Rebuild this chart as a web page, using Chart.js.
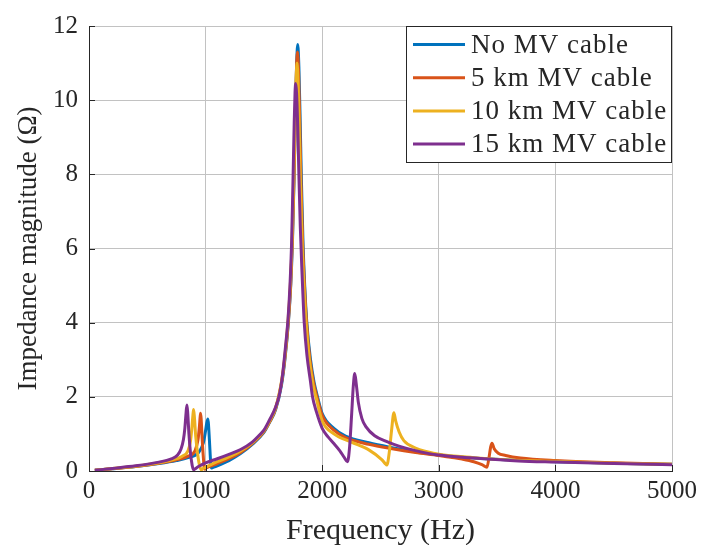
<!DOCTYPE html>
<html>
<head>
<meta charset="utf-8">
<script src="https://cdn.jsdelivr.net/npm/chart.js@4.4.1/dist/chart.umd.min.js"></script>
<style>
    body { margin: 0; background: #fff; }
    #wrap { width: 702px; height: 545px; position: relative; }
</style>
</head>
<body>
<div id="wrap"><canvas id="impedance_chart"></canvas></div>
<script>
// Values (frequency in Hz, |Z| in ohm)
const seriesLabels = ["No MV cable", "5 km MV cable", "10 km MV cable", "15 km MV cable"];
const seriesColors = ["#0072BD", "#D95319", "#EDB120", "#7E2F8E"];

const freqNoCable = [50, 200, 400, 600, 750, 850, 940, 980, 998, 1010, 1020, 1026, 1035, 1042, 1048, 1065, 1100, 1200, 1300, 1400, 1500, 1550,
    1600, 1650, 1680, 1710, 1730, 1745, 1758, 1770, 1780, 1790, 1800, 1810, 1822, 1835, 1850, 1868, 1900, 1930, 1960, 2000,
    2100, 2200, 2400, 2600, 2800, 3000, 3300, 3600, 4000, 4500, 5000];
const zNoCable = [0.02, 0.06, 0.12, 0.2, 0.28, 0.36, 0.5, 0.75, 1.05, 1.3, 1.4, 1.2, 0.7, 0.3, 0.08, 0.1, 0.14, 0.28, 0.47, 0.72, 1.04, 1.32,
    1.65, 2.3, 3.0, 4.0, 5.0, 6.2, 7.8, 9.6, 10.9, 11.5, 10.9, 9.6, 7.8, 6.2, 5.0, 4.0, 3.0, 2.4, 2.0, 1.55,
    1.15, 0.94, 0.76, 0.63, 0.52, 0.43, 0.35, 0.3, 0.25, 0.21, 0.18];

const freq5km = [50, 200, 400, 600, 750, 850, 910, 935, 947, 953, 957, 962, 970, 980, 991, 1005, 1100, 1200, 1300, 1400, 1500, 1550,
    1600, 1650, 1680, 1710, 1730, 1745, 1758, 1770, 1779, 1788, 1797, 1807, 1818, 1832, 1848, 1866, 1895, 1925, 1955, 2000,
    2100, 2200, 2400, 2600, 2800, 3000, 3100, 3200, 3300, 3370, 3413, 3430, 3445, 3456, 3475, 3510, 3573, 3700, 4000, 4500, 5000];
const z5km = [0.02, 0.06, 0.12, 0.21, 0.3, 0.4, 0.55, 0.85, 1.2, 1.45, 1.56, 1.4, 0.9, 0.4, 0.05, 0.08, 0.2, 0.33, 0.5, 0.74, 1.06, 1.33,
    1.68, 2.35, 3.05, 4.05, 5.05, 6.3, 7.9, 9.6, 10.8, 11.3, 10.8, 9.5, 7.8, 6.2, 5.0, 4.0, 3.0, 2.4, 2.0, 1.5,
    1.1, 0.9, 0.72, 0.6, 0.5, 0.42, 0.37, 0.32, 0.25, 0.17, 0.1, 0.35, 0.65, 0.75, 0.6, 0.48, 0.42, 0.35, 0.28, 0.22, 0.18];

const freq10km = [50, 200, 400, 600, 700, 800, 850, 870, 882, 891, 897, 904, 915, 930, 948, 963, 980, 1000, 1100, 1200, 1300, 1400, 1500, 1550,
    1600, 1650, 1680, 1708, 1728, 1743, 1756, 1767, 1776, 1784, 1793, 1803, 1814, 1828, 1845, 1862, 1890, 1920, 1950, 2000,
    2100, 2250, 2400, 2513, 2540, 2555, 2575, 2595, 2615, 2630, 2660, 2700, 2800, 2900, 3000, 3300, 3600, 4000, 4500, 5000];
const z10km = [0.02, 0.065, 0.13, 0.22, 0.29, 0.4, 0.55, 0.8, 1.15, 1.5, 1.66, 1.45, 0.95, 0.5, 0.15, 0.03, 0.07, 0.1, 0.25, 0.38, 0.54, 0.76, 1.08, 1.35,
    1.7, 2.4, 3.1, 4.1, 5.1, 6.3, 7.9, 9.5, 10.5, 11.0, 10.5, 9.3, 7.7, 6.1, 4.9, 4.0, 3.0, 2.35, 1.95, 1.35,
    1.0, 0.78, 0.57, 0.3, 0.2, 0.16, 0.5, 1.1, 1.57, 1.35, 1.05, 0.82, 0.62, 0.52, 0.45, 0.36, 0.3, 0.26, 0.21, 0.18];

const freq15km = [50, 200, 400, 600, 700, 760, 790, 810, 822, 832, 840, 847, 857, 870, 885, 897, 915, 950, 1000, 1100, 1200, 1300, 1400, 1462, 1500, 1547,
    1600, 1632, 1660, 1690, 1707, 1725, 1738, 1750, 1760, 1767, 1773, 1780, 1790, 1800, 1812, 1825, 1846, 1870, 1900, 1917, 1950, 2000,
    2050, 2100, 2150, 2190, 2217, 2235, 2252, 2267, 2279, 2292, 2310, 2340, 2376, 2450, 2550, 2658, 2800, 3000, 3300, 3684, 4000, 4500, 5000];
const z15km = [0.02, 0.07, 0.14, 0.24, 0.32, 0.43, 0.6, 0.85, 1.15, 1.55, 1.78, 1.55, 1.0, 0.5, 0.15, 0.03, 0.07, 0.14, 0.22, 0.33, 0.45, 0.58, 0.78, 0.97, 1.1, 1.37,
    1.72, 2.05, 2.6, 3.5, 4.1, 5.1, 6.2, 7.9, 9.4, 10.2, 10.45, 10.2, 9.3, 8.0, 6.6, 5.5, 4.0, 3.1, 2.4, 2.0, 1.6, 1.15,
    0.92, 0.74, 0.55, 0.36, 0.25, 0.65, 1.5, 2.3, 2.63, 2.35, 1.85, 1.42, 1.19, 0.95, 0.8, 0.67, 0.55, 0.43, 0.35, 0.27, 0.24, 0.2, 0.17];

const freqTicks = [0, 1000, 2000, 3000, 4000, 5000];
const zTicks = [0, 2, 4, 6, 8, 10, 12];

const FONT = "'Liberation Serif', 'Times New Roman', serif";
const TEXT_COLOR = "#262626";

function toPoints(xs, ys) {
    return xs.map((x, i) => ({x: x, y: ys[i]}));
}

// legend box drawn inside the plot, top right corner, like MATLAB's
const boxLegend = {
    id: "boxLegend",
    afterDraw(chart) {
        const ctx = chart.ctx;
        const area = chart.chartArea;
        const w = 266, h = 137, rowH = 33.2;
        const left = area.right - w, top = area.top;
        ctx.save();
        ctx.fillStyle = "#fff";
        ctx.fillRect(left, top, w, h);
        ctx.strokeStyle = TEXT_COLOR;
        ctx.lineWidth = 1;
        ctx.strokeRect(left + 0.5, top + 0.5, w - 1, h - 1);
        ctx.font = "27px " + FONT;
        ctx.letterSpacing = "1px";
        ctx.textBaseline = "middle";
        ctx.fillStyle = TEXT_COLOR;
        chart.data.datasets.forEach((ds, i) => {
            const y = top + 18.5 + i * rowH;
            ctx.strokeStyle = ds.borderColor;
            ctx.lineWidth = 3;
            ctx.beginPath();
            ctx.moveTo(left + 7, y);
            ctx.lineTo(left + 59, y);
            ctx.stroke();
            ctx.fillText(ds.label, left + 65, y + 1);
        });
        ctx.restore();
    }
};

// short inward tick marks on both axes
const innerTicks = {
    id: "innerTicks",
    afterDatasetsDraw(chart) {
        const ctx = chart.ctx;
        const xs = chart.scales.x, ys = chart.scales.y;
        ctx.save();
        ctx.strokeStyle = TEXT_COLOR;
        ctx.lineWidth = 1;
        ctx.beginPath();
        freqTicks.forEach(v => {
            const px = Math.round(xs.getPixelForValue(v)) + 0.5;
            ctx.moveTo(px, ys.bottom);
            ctx.lineTo(px, ys.bottom - 6);
        });
        zTicks.forEach(v => {
            const py = Math.round(ys.getPixelForValue(v)) + 0.5;
            ctx.moveTo(xs.left, py);
            ctx.lineTo(xs.left + 6, py);
        });
        ctx.stroke();
        ctx.restore();
    }
};

const series = [
    [freqNoCable, zNoCable],
    [freq5km, z5km],
    [freq10km, z10km],
    [freq15km, z15km]
];

const ctx_chart = document.getElementById("impedance_chart").getContext("2d");
const impedance_chart = new Chart(ctx_chart, {
    type: "line",
    data: {
        datasets: series.map((s, i) => ({
            label: seriesLabels[i],
            data: toPoints(s[0], s[1]),
            borderColor: seriesColors[i],
            backgroundColor: seriesColors[i],
            borderWidth: 3,
            pointRadius: 0,
            cubicInterpolationMode: "monotone",
            fill: false,
            order: 4 - i
        }))
    },
    options: {
        responsive: true,
        maintainAspectRatio: false,
        animation: false,
        layout: { padding: { left: 0, right: 26, top: 26, bottom: 0 } },
        plugins: { legend: { display: false }, tooltip: { enabled: false } },
        scales: {
            x: {
                type: "linear",
                min: 0,
                max: 5000,
                afterBuildTicks: scale => { scale.ticks = freqTicks.map(v => ({value: v})); },
                afterFit: scale => { scale.height = 74; },
                ticks: { color: TEXT_COLOR, font: { family: FONT, size: 25 }, padding: 5, maxRotation: 0,
                    callback: v => String(v) },
                grid: { color: "#c2c2c2", lineWidth: 1, drawTicks: false },
                border: { color: TEXT_COLOR, width: 1 },
                title: { display: true, text: "Frequency (Hz)", color: TEXT_COLOR,
                    font: { family: FONT, size: 30, lineHeight: 1 }, padding: { top: 0, bottom: -1 } }
            },
            y: {
                type: "linear",
                min: 0,
                max: 12,
                afterBuildTicks: scale => { scale.ticks = zTicks.map(v => ({value: v})); },
                afterFit: scale => { scale.width = 89; },
                ticks: { color: TEXT_COLOR, font: { family: FONT, size: 25 }, padding: 11,
                    callback: v => String(v) },
                grid: { color: "#c2c2c2", lineWidth: 1, drawTicks: false },
                border: { color: TEXT_COLOR, width: 1 },
                title: { display: true, text: "Impedance magnitude (\u03A9)", color: TEXT_COLOR,
                    font: { family: FONT, size: 27, lineHeight: 1 }, padding: { top: 15, bottom: 0 } }
            }
        }
    },
    plugins: [innerTicks, boxLegend]
});
</script>
</body>
</html>
